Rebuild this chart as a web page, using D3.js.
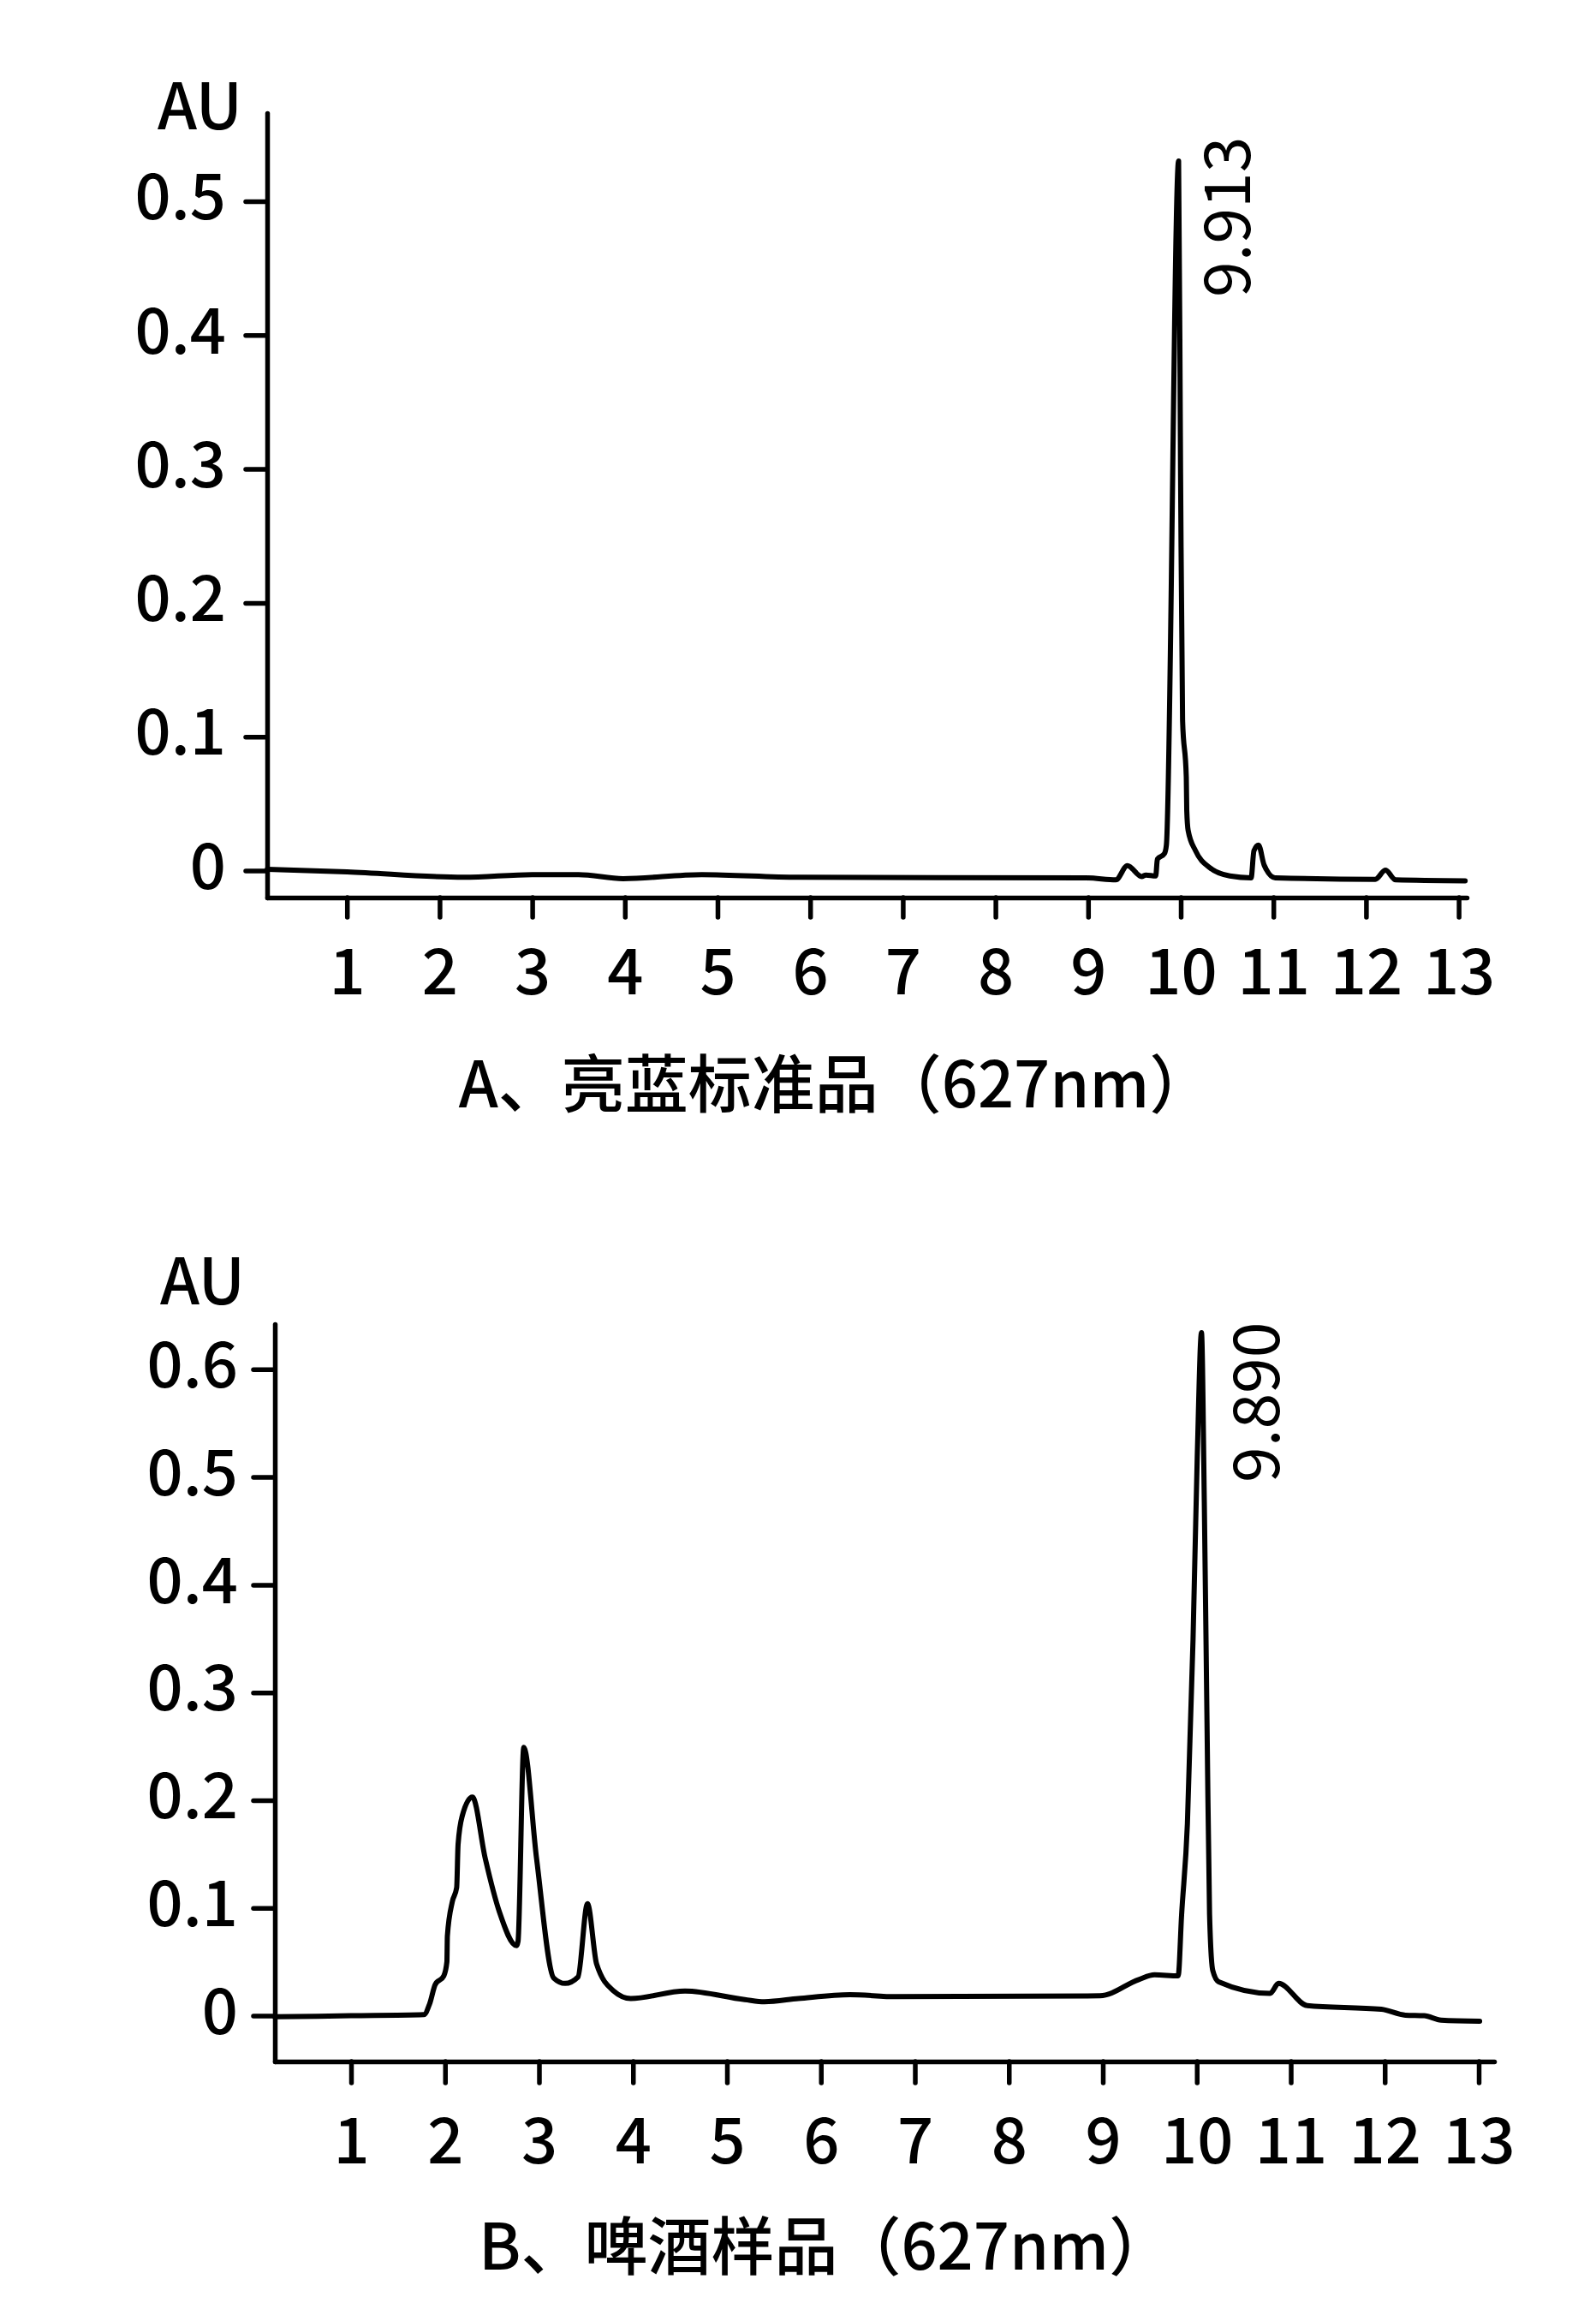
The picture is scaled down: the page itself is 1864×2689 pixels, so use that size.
<!DOCTYPE html>
<html>
<head>
<meta charset="utf-8">
<script src="https://cdn.jsdelivr.net/npm/d3@7"></script>
<style>
  body { margin: 0; background: #fff; }
  text { font-family: "Noto Sans CJK SC", "Noto Sans", sans-serif; fill: #000; }
</style>
</head>
<body>
<div id="chart"></div>
<script>

// ---- data ----
// A: brilliant blue standard
let timeA = [0.14, 1.00, 2.26, 3.00, 3.50, 3.98, 4.83, 5.87, 8.99, 9.30,
             9.424, 9.578, 9.624, 9.73, 9.748, 9.824, 9.845, 9.977, 9.998, 10.02,
             10.06, 10.065, 10.08, 10.16, 10.317, 10.53, 10.76, 10.79, 10.84, 10.90,
             11.02, 12.10, 12.21, 12.32, 13.07];
let absA  = [0.001, -0.001, -0.005, -0.003, -0.003, -0.006, -0.003, -0.005, -0.0055, -0.0069,
             0.0037, -0.0044, -0.0033, -0.004, 0.0085, 0.0127, 0.019, 0.530, 0.300, 0.112,
             0.070, 0.045, 0.030, 0.0148, 0.002, -0.004, -0.0054, 0.0148, 0.019, 0.0042,
             -0.0054, -0.0065, 0.0003, -0.0069, -0.0076];

// B: beer sample
let timeB = [0.19, 1.00, 1.775, 1.836, 1.896, 1.987, 2.02, 2.025, 2.078, 2.124,
             2.139, 2.185, 2.291, 2.428, 2.58, 2.762, 2.777, 2.838, 2.974, 3.157,
             3.278, 3.415, 3.516, 3.613, 3.795, 3.977, 4.554, 5.19, 5.40, 5.76,
             6.31, 6.80, 8.97, 9.383, 9.55, 9.802, 9.838, 9.90, 9.96, 10.005,
             10.05, 10.08, 10.11, 10.136, 10.17, 10.233, 10.78, 10.87, 11.175, 11.964,
             12.22, 12.42, 12.60, 13.01];
let absB  = [-0.001, 0.000, 0.001, 0.011, 0.029, 0.037, 0.050, 0.074, 0.106, 0.119,
             0.159, 0.186, 0.203, 0.146, 0.096, 0.065, 0.069, 0.249, 0.146, 0.035,
             0.030, 0.036, 0.104, 0.048, 0.023, 0.016, 0.023, 0.015, 0.013, 0.016,
             0.0196, 0.0177, 0.0185, 0.0336, 0.038, 0.037, 0.093, 0.178, 0.349, 0.519,
             0.634, 0.477, 0.264, 0.094, 0.042, 0.0315, 0.0208, 0.030, 0.0094, 0.006,
             0.0005, 0.000, -0.004, -0.005];

let xTicks  = [1, 2, 3, 4, 5, 6, 7, 8, 9, 10, 11, 12, 13];
let yTicksA = [0, 0.1, 0.2, 0.3, 0.4, 0.5];
let yTicksB = [0, 0.1, 0.2, 0.3, 0.4, 0.5, 0.6];

let titleA = "A、亮蓝标准品（627nm）";
let titleB = "B、啤酒样品（627nm）";
let peakA = "9.913";
let peakB = "9.890";
let unitLabel = "AU";


let w = 1864;
let h = 2689;

let viz = d3.select("#chart").append("svg")
	.attr("width", w)
	.attr("height", h)
	.style("background-color", "white");

// pixel layout of each panel (axis line ends, where x=0 / y=0 fall, etc)
let panels = [
	{ time: timeA, abs: absA, yTicks: yTicksA, title: titleA, peak: peakA,
	  left: 312, right: 1713, top: 132, bottom: 1048,
	  x0: 297, xUnit: 108.2, y0: 1016.5, yUnit: 1563,
	  yPad: 23, xTickLen: 23, xPad: 37,
	  auX: 283, auY: 151, titleX: 976, titleY: 1293, peakX: 1460, peakY: 347 },
	{ time: timeB, abs: absB, yTicks: yTicksB, title: titleB, peak: peakB,
	  left: 321, right: 1745, top: 1546, bottom: 2407,
	  x0: 300.25, xUnit: 109.75, y0: 2353.6, yUnit: 1258,
	  yPad: 18, xTickLen: 25, xPad: 41,
	  auX: 286, auY: 1523, titleX: 964, titleY: 2650, peakX: 1494, peakY: 1731 }
];

function drawPanel(p){

	let xScale = d3.scaleLinear()
		.domain([(p.left - p.x0) / p.xUnit, (p.right - p.x0) / p.xUnit])
		.range([p.left, p.right]);
	let yScale = d3.scaleLinear()
		.domain([(p.y0 - p.bottom) / p.yUnit, (p.y0 - p.top) / p.yUnit])
		.range([p.bottom, p.top]);

	let g = viz.append("g");

	let yAxis = d3.axisLeft(yScale)
		.tickValues(p.yTicks)
		.tickSize(25)
		.tickSizeOuter(0)
		.tickPadding(p.yPad)
		.tickFormat(function(d){ return d === 0 ? "0" : d3.format(".1f")(d); });

	let xAxis = d3.axisBottom(xScale)
		.tickValues(xTicks)
		.tickSize(p.xTickLen)
		.tickSizeOuter(0)
		.tickPadding(p.xPad);

	let yg = g.append("g").attr("transform", "translate(" + p.left + ",0)").call(yAxis);
	let xg = g.append("g").attr("transform", "translate(0," + p.bottom + ")").call(xAxis);

	[yg, xg].forEach(function(a){
		a.selectAll("path, line")
			.attr("stroke", "#000")
			.attr("stroke-width", 5.5)
			.attr("stroke-linecap", "round");
		a.selectAll("text")
			.style("font-size", "74px")
			.style("font-weight", 500)
			.attr("fill", "#000");
	});
	yg.selectAll("text").attr("dy", "0.28em");

	let line = d3.line()
		.x(function(d){ return xScale(d[0]); })
		.y(function(d){ return yScale(d[1]); })
		.curve(d3.curveMonotoneX);

	let pts = p.time.map(function(t, i){ return [t, p.abs[i]]; });

	g.append("path")
		.datum(pts)
		.attr("d", line)
		.attr("fill", "none")
		.attr("stroke", "#000")
		.attr("stroke-width", 6)
		.attr("stroke-linejoin", "round")
		.attr("stroke-linecap", "round");

	g.append("text")
		.attr("x", p.auX)
		.attr("y", p.auY)
		.attr("text-anchor", "end")
		.style("font-size", "74px")
		.style("font-weight", 500)
		.text(unitLabel);

	g.append("text")
		.attr("transform", "translate(" + p.peakX + "," + p.peakY + ") rotate(-90)")
		.attr("text-anchor", "start")
		.style("font-size", "75px")
		.style("font-weight", 400)
		.text(p.peak);

	g.append("text")
		.attr("x", p.titleX)
		.attr("y", p.titleY)
		.attr("text-anchor", "middle")
		.style("font-size", "74px")
		.style("font-weight", 500)
		.text(p.title);
}

panels.forEach(drawPanel);

</script>
</body>
</html>
